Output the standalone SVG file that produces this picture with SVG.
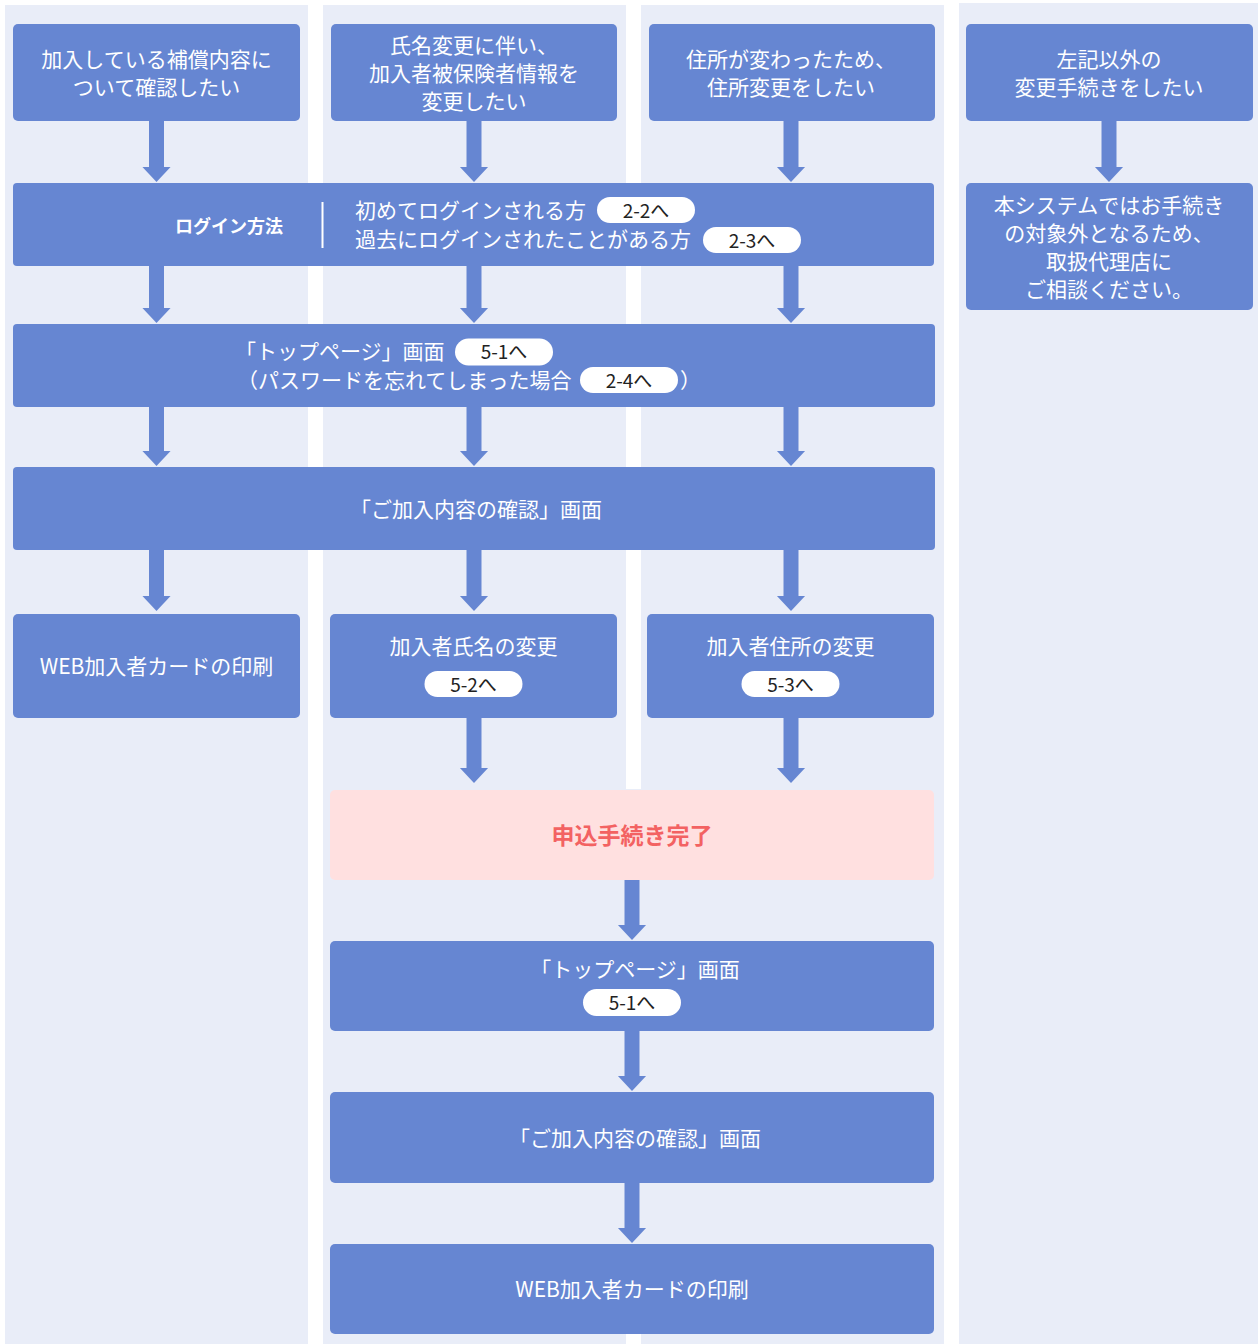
<svg xmlns="http://www.w3.org/2000/svg" width="1258" height="1344" viewBox="0 0 1258 1344">
<style>
.bg{fill:#e9edf8}
.box{fill:#6686d2}
.pink{fill:#ffe0e0}
.t{font-family:"Noto Sans CJK JP","Noto Sans",sans-serif;font-size:21px;fill:#ffffff;text-anchor:middle;dominant-baseline:central}
.tl{text-anchor:start}
.b{font-weight:bold;font-size:18px}
.red{fill:#f36262;font-weight:bold;font-size:23px}
.pill{fill:#ffffff}
.pt{font-family:"Noto Sans CJK JP","Noto Sans",sans-serif;font-size:19px;fill:#222222;text-anchor:middle;dominant-baseline:central}
.arr{stroke:#6686d2;stroke-width:15;fill:none;marker-end:url(#ah)}
</style>
<defs>
<marker id="ah" markerUnits="userSpaceOnUse" viewBox="0 -15 15 30" markerWidth="15" markerHeight="30" refX="0" refY="0" orient="auto">
<path d="M-1,-15 L15,0 L-1,15 Z" fill="#6686d2"/>
</marker>
</defs>
<rect x="0" y="0" width="1258" height="1344" fill="#ffffff"/>
<g id="lanes">
<rect class="bg" x="5" y="5" width="303" height="1339"/>
<rect class="bg" x="323" y="5" width="303" height="1328"/>
<rect class="bg" x="641" y="5" width="303" height="1328"/>
<rect class="bg" x="323" y="789" width="621" height="544"/>
<rect class="bg" x="323" y="1333" width="303" height="11"/>
<rect class="bg" x="641" y="1333" width="303" height="11"/>
<rect class="bg" x="959" y="3" width="299" height="1341"/>
</g>
<g id="connectors">
<line class="arr" x1="156.5" y1="121" x2="156.5" y2="167"/>
<line class="arr" x1="156.5" y1="266" x2="156.5" y2="308"/>
<line class="arr" x1="156.5" y1="407" x2="156.5" y2="451"/>
<line class="arr" x1="156.5" y1="550" x2="156.5" y2="596"/>
<line class="arr" x1="474" y1="121" x2="474" y2="167"/>
<line class="arr" x1="474" y1="266" x2="474" y2="308"/>
<line class="arr" x1="474" y1="407" x2="474" y2="451"/>
<line class="arr" x1="474" y1="550" x2="474" y2="596"/>
<line class="arr" x1="474" y1="718" x2="474" y2="768"/>
<line class="arr" x1="791" y1="121" x2="791" y2="167"/>
<line class="arr" x1="791" y1="266" x2="791" y2="308"/>
<line class="arr" x1="791" y1="407" x2="791" y2="451"/>
<line class="arr" x1="791" y1="550" x2="791" y2="596"/>
<line class="arr" x1="791" y1="718" x2="791" y2="768"/>
<line class="arr" x1="1109" y1="121" x2="1109" y2="167"/>
<line class="arr" x1="632" y1="880" x2="632" y2="925"/>
<line class="arr" x1="632" y1="1031" x2="632" y2="1076"/>
<line class="arr" x1="632" y1="1183" x2="632" y2="1228"/>
</g>
<g id="n-confirm-coverage">
<rect class="box" x="13" y="24" width="287" height="97" rx="5"/>
<text class="t" x="156.5" y="58">加入している補償内容に</text>
<text class="t" x="156.5" y="86">ついて確認したい</text>
</g>
<g id="n-name-change">
<rect class="box" x="331" y="24" width="286" height="97" rx="5"/>
<text class="t" x="474" y="44">氏名変更に伴い、</text>
<text class="t" x="474" y="72">加入者被保険者情報を</text>
<text class="t" x="474" y="100">変更したい</text>
</g>
<g id="n-address-change">
<rect class="box" x="649" y="24" width="286" height="97" rx="5"/>
<text class="t" x="791" y="58">住所が変わったため、</text>
<text class="t" x="791" y="86">住所変更をしたい</text>
</g>
<g id="n-other">
<rect class="box" x="966" y="24" width="287" height="97" rx="5"/>
<text class="t" x="1109" y="58">左記以外の</text>
<text class="t" x="1109" y="86">変更手続きをしたい</text>
</g>
<g id="n-out-of-scope">
<rect class="box" x="966" y="183" width="287" height="127" rx="5"/>
<text class="t" x="1109" y="204">本システムではお手続き</text>
<text class="t" x="1109" y="232">の対象外となるため、</text>
<text class="t" x="1109" y="260">取扱代理店に</text>
<text class="t" x="1109" y="288">ご相談ください。</text>
</g>
<g id="n-login">
<rect class="box" x="13" y="183" width="921" height="83" rx="4"/>
<text class="t b" x="229" y="224.5">ログイン方法</text>
<rect x="321.5" y="202" width="2" height="46" fill="#ffffff"/>
<text class="t tl" x="355" y="209">初めてログインされる方</text>
<rect class="pill" x="597" y="197" width="98" height="26" rx="13"/>
<text class="pt" x="646" y="209">2-2へ</text>
<text class="t tl" x="355" y="238">過去にログインされたことがある方</text>
<rect class="pill" x="703" y="227" width="98" height="26" rx="13"/>
<text class="pt" x="752" y="239">2-3へ</text>
</g>
<g id="n-top-page">
<rect class="box" x="13" y="324" width="922" height="83" rx="4"/>
<text class="t tl" x="235" y="350">「トップページ」画面</text>
<rect class="pill" x="455" y="338.5" width="98" height="27" rx="13.5"/>
<text class="pt" x="504" y="350.5">5-1へ</text>
<text class="t tl" x="237" y="378.5">（パスワードを忘れてしまった場合</text>
<rect class="pill" x="580" y="367" width="98" height="26" rx="13"/>
<text class="pt" x="629" y="379">2-4へ</text>
<text class="t tl" x="680" y="378.5">）</text>
</g>
<g id="n-contents">
<rect class="box" x="13" y="467" width="922" height="83" rx="4"/>
<text class="t" x="476" y="508">「ご加入内容の確認」画面</text>
</g>
<g id="n-print-1">
<rect class="box" x="13" y="614" width="287" height="104" rx="5"/>
<text class="t" x="156.5" y="665">WEB加入者カードの印刷</text>
</g>
<g id="n-name-edit">
<rect class="box" x="330" y="614" width="287" height="104" rx="5"/>
<text class="t" x="473.5" y="645">加入者氏名の変更</text>
<rect class="pill" x="424.5" y="671" width="98" height="26" rx="13"/>
<text class="pt" x="473.5" y="683">5-2へ</text>
</g>
<g id="n-address-edit">
<rect class="box" x="647" y="614" width="287" height="104" rx="5"/>
<text class="t" x="790.5" y="645">加入者住所の変更</text>
<rect class="pill" x="741.5" y="671" width="98" height="26" rx="13"/>
<text class="pt" x="790.5" y="683">5-3へ</text>
</g>
<g id="n-complete">
<rect class="pink" x="330" y="790" width="604" height="90" rx="5"/>
<text class="t red" x="632" y="834">申込手続き完了</text>
</g>
<g id="n-top-page-2">
<rect class="box" x="330" y="941" width="604" height="90" rx="5"/>
<text class="t" x="635" y="968">「トップページ」画面</text>
<rect class="pill" x="583" y="989" width="98" height="27" rx="13.5"/>
<text class="pt" x="632" y="1001.5">5-1へ</text>
</g>
<g id="n-contents-2">
<rect class="box" x="330" y="1092" width="604" height="91" rx="5"/>
<text class="t" x="635" y="1137">「ご加入内容の確認」画面</text>
</g>
<g id="n-print-2">
<rect class="box" x="330" y="1244" width="604" height="90" rx="5"/>
<text class="t" x="632" y="1288">WEB加入者カードの印刷</text>
</g>
</svg>
